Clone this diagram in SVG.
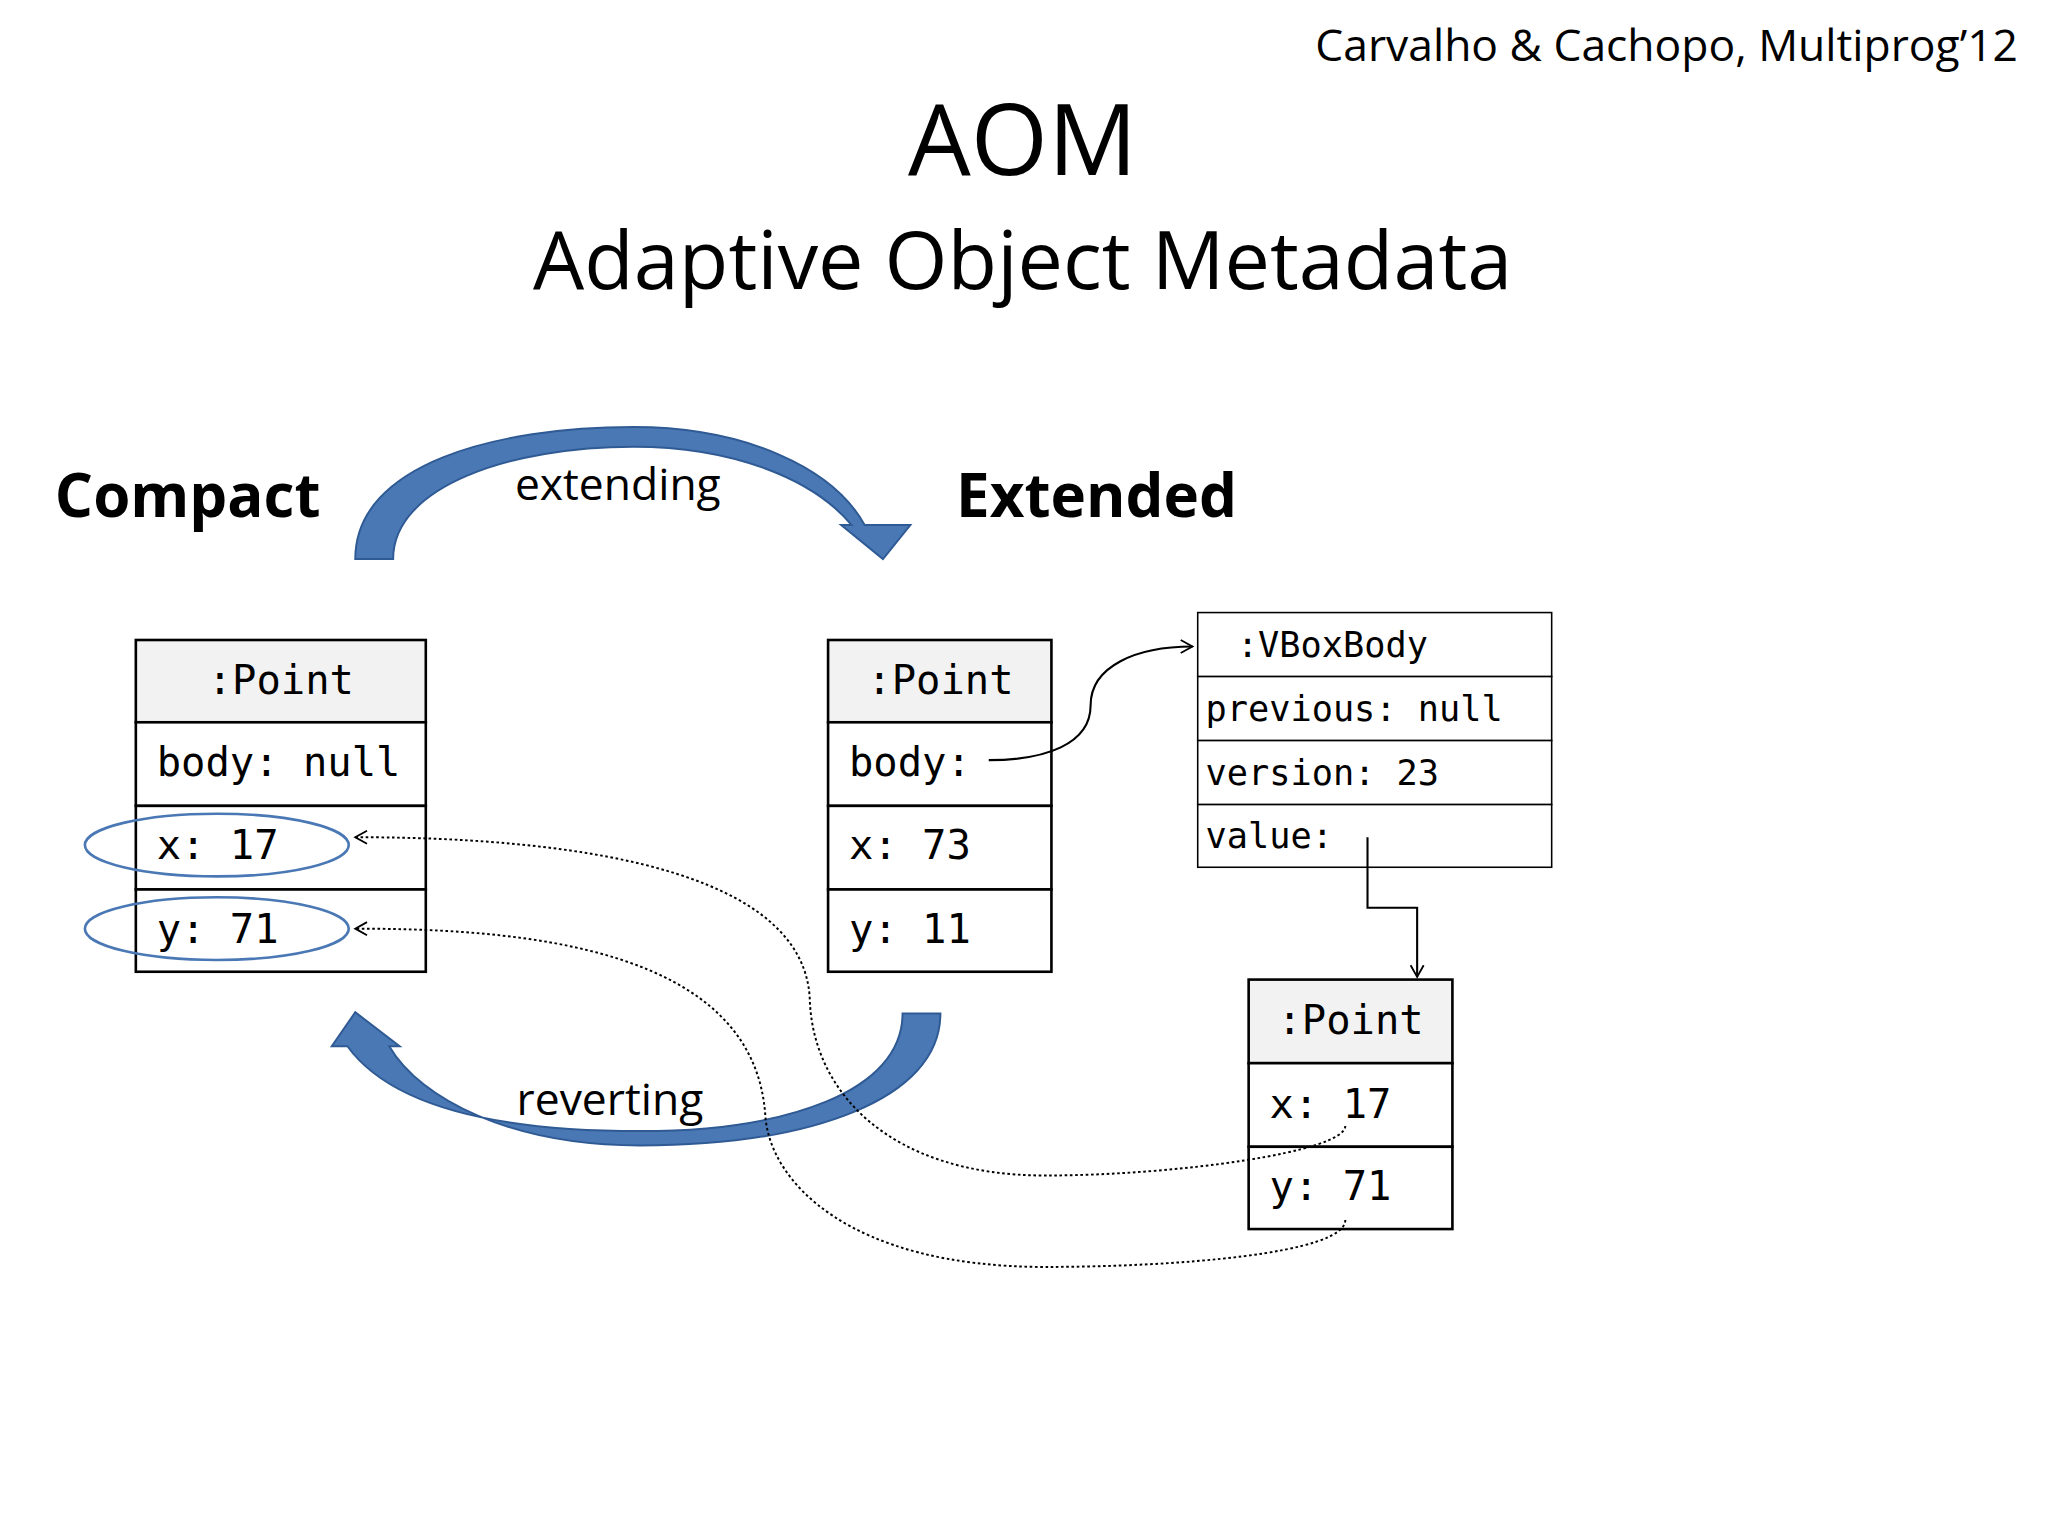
<svg xmlns="http://www.w3.org/2000/svg" width="2048" height="1536" viewBox="0 0 2048 1536">
<style>
.t{font-family:"Open Sans","Noto Sans","Liberation Sans",sans-serif;fill:#000}
.m{font-family:"DejaVu Sans Mono","Liberation Mono",monospace;fill:#000}
.box{fill:#fff;stroke:#000;stroke-width:2}
.hd{fill:#f2f2f2;stroke:#000;stroke-width:2}
.thin{fill:#fff;stroke:#000;stroke-width:1.2}
.bigarrow{fill:#4a78b5;stroke:#2f5a94;stroke-width:1.5}
.dot{fill:none;stroke:#000;stroke-width:1.5;stroke-dasharray:2 2}
.ln{fill:none;stroke:#000;stroke-width:1.6}
</style>
<defs>
<marker id="open" markerWidth="12" markerHeight="12" refX="10" refY="6" orient="auto" markerUnits="userSpaceOnUse"><path d="M1,1 L10,6 L1,11" fill="none" stroke="#000" stroke-width="1.4"/></marker>
</defs>
<rect width="2048" height="1536" fill="#fff"/>
<g transform="scale(1.30612)">
<g id="titles">
<text class="t" x="1545" y="47" font-size="34" text-anchor="end">Carvalho &amp; Cachopo, Multiprog’12</text>
<text class="t" x="783" y="134" font-size="76" text-anchor="middle">AOM</text>
<text class="t" x="783" y="221" font-size="62" text-anchor="middle">Adaptive Object Metadata</text>
<text class="t" x="42" y="396" font-size="46" font-weight="bold">Compact</text>
<text class="t" x="732" y="396" font-size="46" font-weight="bold">Extended</text>
</g>
<g id="extending">
<path class="bigarrow" d="M272,428 C272,355 380,327 485,327 C570,327 638,358 662,402 L697,402 L676,428 L644,402 L652,402 C622,366 560,342 485,342 C392,342 301,372 301,428 Z"/>
<text class="t" x="473" y="383" font-size="34" text-anchor="middle">extending</text>
</g>
<g id="reverting">
<path class="bigarrow" d="M720,776 C720,842 620,877 490,877 C392,877 322,842 298,801 L306,801 L272,775 L254,801 L266,801 C300,848 382,866 490,866 C602,866 691,836 691,776 Z"/>
<text class="t" x="467" y="854" font-size="34" text-anchor="middle">reverting</text>
</g>
<g id="compactPoint">
<rect class="hd" x="104" y="490" width="222" height="63"/>
<rect class="box" x="104" y="553" width="222" height="64"/>
<rect class="box" x="104" y="617" width="222" height="64"/>
<rect class="box" x="104" y="681" width="222" height="63"/>
<text class="m" x="215" y="531" font-size="31" text-anchor="middle">:Point</text>
<text class="m" x="120" y="594" font-size="31">body: null</text>
<text class="m" x="120" y="658" font-size="31">x: 17</text>
<text class="m" x="120" y="722" font-size="31">y: 71</text>
<ellipse cx="166" cy="647" rx="101" ry="24" fill="none" stroke="#4a78b5" stroke-width="2"/>
<ellipse cx="166" cy="711" rx="101" ry="24" fill="none" stroke="#4a78b5" stroke-width="2"/>
</g>
<g id="extendedPoint">
<rect class="hd" x="634" y="490" width="171" height="63"/>
<rect class="box" x="634" y="553" width="171" height="64"/>
<rect class="box" x="634" y="617" width="171" height="64"/>
<rect class="box" x="634" y="681" width="171" height="63"/>
<text class="m" x="720" y="531" font-size="31" text-anchor="middle">:Point</text>
<text class="m" x="650" y="594" font-size="31">body:</text>
<text class="m" x="650" y="658" font-size="31">x: 73</text>
<text class="m" x="650" y="722" font-size="31">y: 11</text>
</g>
<g id="vboxbody">
<rect class="thin" x="917" y="469" width="271" height="49"/>
<rect class="thin" x="917" y="518" width="271" height="49"/>
<rect class="thin" x="917" y="567" width="271" height="49"/>
<rect class="thin" x="917" y="616" width="271" height="48"/>
<text class="m" x="947" y="503" font-size="27">:VBoxBody</text>
<text class="m" x="923" y="552" font-size="27">previous: null</text>
<text class="m" x="923" y="601" font-size="27">version: 23</text>
<text class="m" x="923" y="649" font-size="27">value:</text>
</g>
<g id="bodyPoint">
<rect class="hd" x="956" y="750" width="156" height="64"/>
<rect class="box" x="956" y="814" width="156" height="64"/>
<rect class="box" x="956" y="878" width="156" height="63"/>
<text class="m" x="1034" y="792" font-size="31" text-anchor="middle">:Point</text>
<text class="m" x="972" y="856" font-size="31">x: 17</text>
<text class="m" x="972" y="919" font-size="31">y: 71</text>
</g>
<g id="connectors">
<path class="ln" d="M757,582 C800,582 835,570 835,540 C835,510 870,495 913,495" marker-end="url(#open)"/>
<path class="ln" d="M1047,641 L1047,695 L1085,695 L1085,748" marker-end="url(#open)"/>
<path class="dot" d="M1030,862 C1030,882 900,900 800,900 C680,900 622,835 620,765 C615,655 400,641 272,641" marker-end="url(#open)"/>
<path class="dot" d="M1030,934 C1030,960 900,970 800,970 C650,970 590,905 586,855 C578,725 400,711 272,711" marker-end="url(#open)"/>
</g>
</g>
</svg>
